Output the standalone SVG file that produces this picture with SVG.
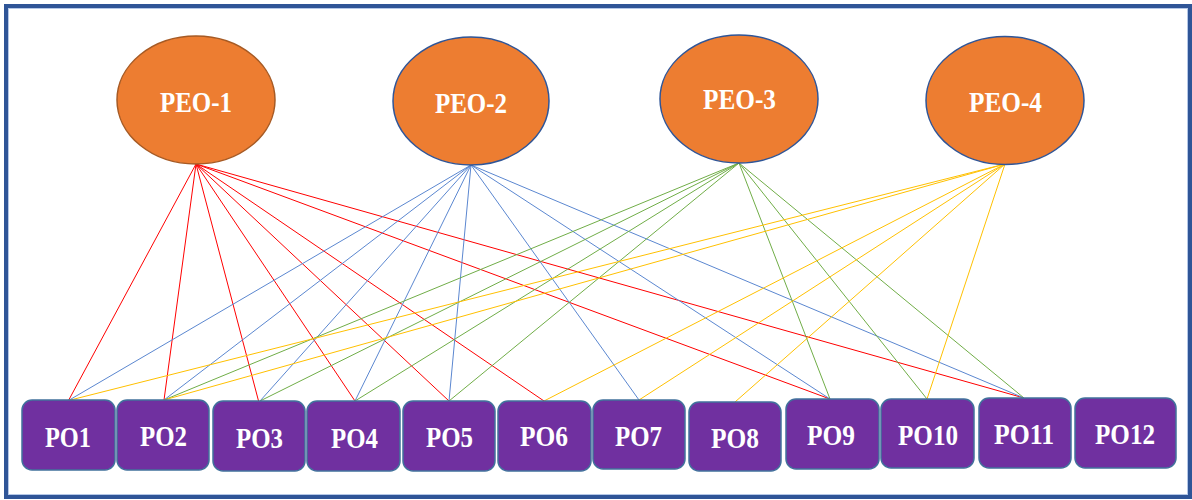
<svg xmlns="http://www.w3.org/2000/svg" width="1192" height="500" viewBox="0 0 1192 500">
<style>
.peo{fill:#ED7D31;stroke:#2F5597;stroke-width:1.5}
.peo1{stroke:#A65A24}
.po{fill:#7030A0;stroke:#41719C;stroke-width:1.5}
.t{font-family:"Liberation Serif","Times New Roman",serif;font-weight:bold;font-size:30px;fill:#FFFFFF;text-anchor:middle}
.r{stroke:#FF0000;stroke-width:1;fill:none}
.b{stroke:#5B87D0;stroke-width:1;fill:none}
.g{stroke:#70AD47;stroke-width:1;fill:none}
.y{stroke:#FFC000;stroke-width:1;fill:none}
</style>
<rect x="0" y="0" width="1192" height="500" fill="#FFFFFF"/>
<rect x="6" y="6" width="1184" height="491" fill="none" stroke="#2F5597" stroke-width="4"/>
<rect x="8.5" y="8.5" width="1179" height="486" fill="none" stroke="#B4C7E7" stroke-width="1"/>
<g id="connectors">
<g class="r">
<line x1="196" y1="164" x2="68.5" y2="400.5"/>
<line x1="196" y1="164" x2="164" y2="400"/>
<line x1="196" y1="164" x2="262.5" y2="416"/>
<line x1="196" y1="164" x2="355" y2="401"/>
<line x1="196" y1="164" x2="449" y2="401"/>
<line x1="196" y1="164" x2="544" y2="401"/>
<line x1="196" y1="164" x2="830" y2="399"/>
<line x1="196" y1="164" x2="1024" y2="398"/>
</g>
<g class="b">
<line x1="471" y1="165" x2="68.5" y2="400.5"/>
<line x1="471" y1="165" x2="164" y2="400"/>
<line x1="471" y1="165" x2="260" y2="401"/>
<line x1="471" y1="165" x2="355" y2="401"/>
<line x1="471" y1="165" x2="449" y2="401"/>
<line x1="471" y1="165" x2="639" y2="400"/>
<line x1="471" y1="165" x2="830" y2="399"/>
<line x1="471" y1="165" x2="1024" y2="398"/>
</g>
<g class="g">
<line x1="739" y1="163" x2="164" y2="400"/>
<line x1="739" y1="163" x2="260" y2="401"/>
<line x1="739" y1="163" x2="355" y2="401"/>
<line x1="739" y1="163" x2="449" y2="401"/>
<line x1="739" y1="163" x2="830" y2="399"/>
<line x1="739" y1="163" x2="927" y2="399"/>
<line x1="739" y1="163" x2="1024" y2="398"/>
</g>
<g class="y">
<line x1="1005" y1="164" x2="68.5" y2="400.5"/>
<line x1="1005" y1="164" x2="164" y2="400"/>
<line x1="1005" y1="164" x2="544" y2="401"/>
<line x1="1005" y1="164" x2="639" y2="400"/>
<line x1="1005" y1="164" x2="735" y2="402"/>
<line x1="1005" y1="164" x2="927" y2="399"/>
</g>
</g>
<g id="PEO-1"><ellipse class="peo peo1" cx="196" cy="100" rx="79" ry="64"/><text class="t" x="196" y="112" textLength="72" lengthAdjust="spacingAndGlyphs">PEO-1</text></g>
<g id="PEO-2"><ellipse class="peo" cx="471" cy="101" rx="78" ry="64"/><text class="t" x="471" y="112.5" textLength="72" lengthAdjust="spacingAndGlyphs">PEO-2</text></g>
<g id="PEO-3"><ellipse class="peo" cx="739" cy="99" rx="79" ry="64"/><text class="t" x="739.5" y="109" textLength="73" lengthAdjust="spacingAndGlyphs">PEO-3</text></g>
<g id="PEO-4"><ellipse class="peo" cx="1005" cy="100.5" rx="79" ry="64"/><text class="t" x="1005.5" y="111.5" textLength="73" lengthAdjust="spacingAndGlyphs">PEO-4</text></g>
<g id="PO1"><rect class="po" x="22" y="400" width="93" height="70" rx="10"/><text class="t" x="68" y="446.5" textLength="46" lengthAdjust="spacingAndGlyphs">PO1</text></g>
<g id="PO2"><rect class="po" x="117" y="400" width="92" height="70" rx="10"/><text class="t" x="163.5" y="446" textLength="47" lengthAdjust="spacingAndGlyphs">PO2</text></g>
<g id="PO3"><rect class="po" x="213" y="401" width="92" height="70" rx="10"/><text class="t" x="259.5" y="448" textLength="47" lengthAdjust="spacingAndGlyphs">PO3</text></g>
<g id="PO4"><rect class="po" x="307" y="401" width="93" height="70" rx="10"/><text class="t" x="354.5" y="447.5" textLength="47" lengthAdjust="spacingAndGlyphs">PO4</text></g>
<g id="PO5"><rect class="po" x="403" y="401" width="92" height="70" rx="10"/><text class="t" x="449.5" y="446.5" textLength="47" lengthAdjust="spacingAndGlyphs">PO5</text></g>
<g id="PO6"><rect class="po" x="498" y="401" width="93" height="70" rx="10"/><text class="t" x="544" y="446" textLength="48" lengthAdjust="spacingAndGlyphs">PO6</text></g>
<g id="PO7"><rect class="po" x="593" y="400" width="92" height="69" rx="10"/><text class="t" x="638.5" y="446" textLength="47" lengthAdjust="spacingAndGlyphs">PO7</text></g>
<g id="PO8"><rect class="po" x="689" y="402" width="92" height="69" rx="10"/><text class="t" x="735" y="447.5" textLength="48" lengthAdjust="spacingAndGlyphs">PO8</text></g>
<g id="PO9"><rect class="po" x="786" y="399" width="93" height="70" rx="10"/><text class="t" x="831" y="445" textLength="48" lengthAdjust="spacingAndGlyphs">PO9</text></g>
<g id="PO10"><rect class="po" x="881" y="399" width="93" height="69" rx="10"/><text class="t" x="928" y="444.5" textLength="60" lengthAdjust="spacingAndGlyphs">PO10</text></g>
<g id="PO11"><rect class="po" x="979" y="398" width="92" height="70" rx="10"/><text class="t" x="1024" y="444" textLength="60" lengthAdjust="spacingAndGlyphs">PO11</text></g>
<g id="PO12"><rect class="po" x="1075" y="398" width="101" height="70" rx="10"/><text class="t" x="1125" y="444" textLength="60" lengthAdjust="spacingAndGlyphs">PO12</text></g>
</svg>
